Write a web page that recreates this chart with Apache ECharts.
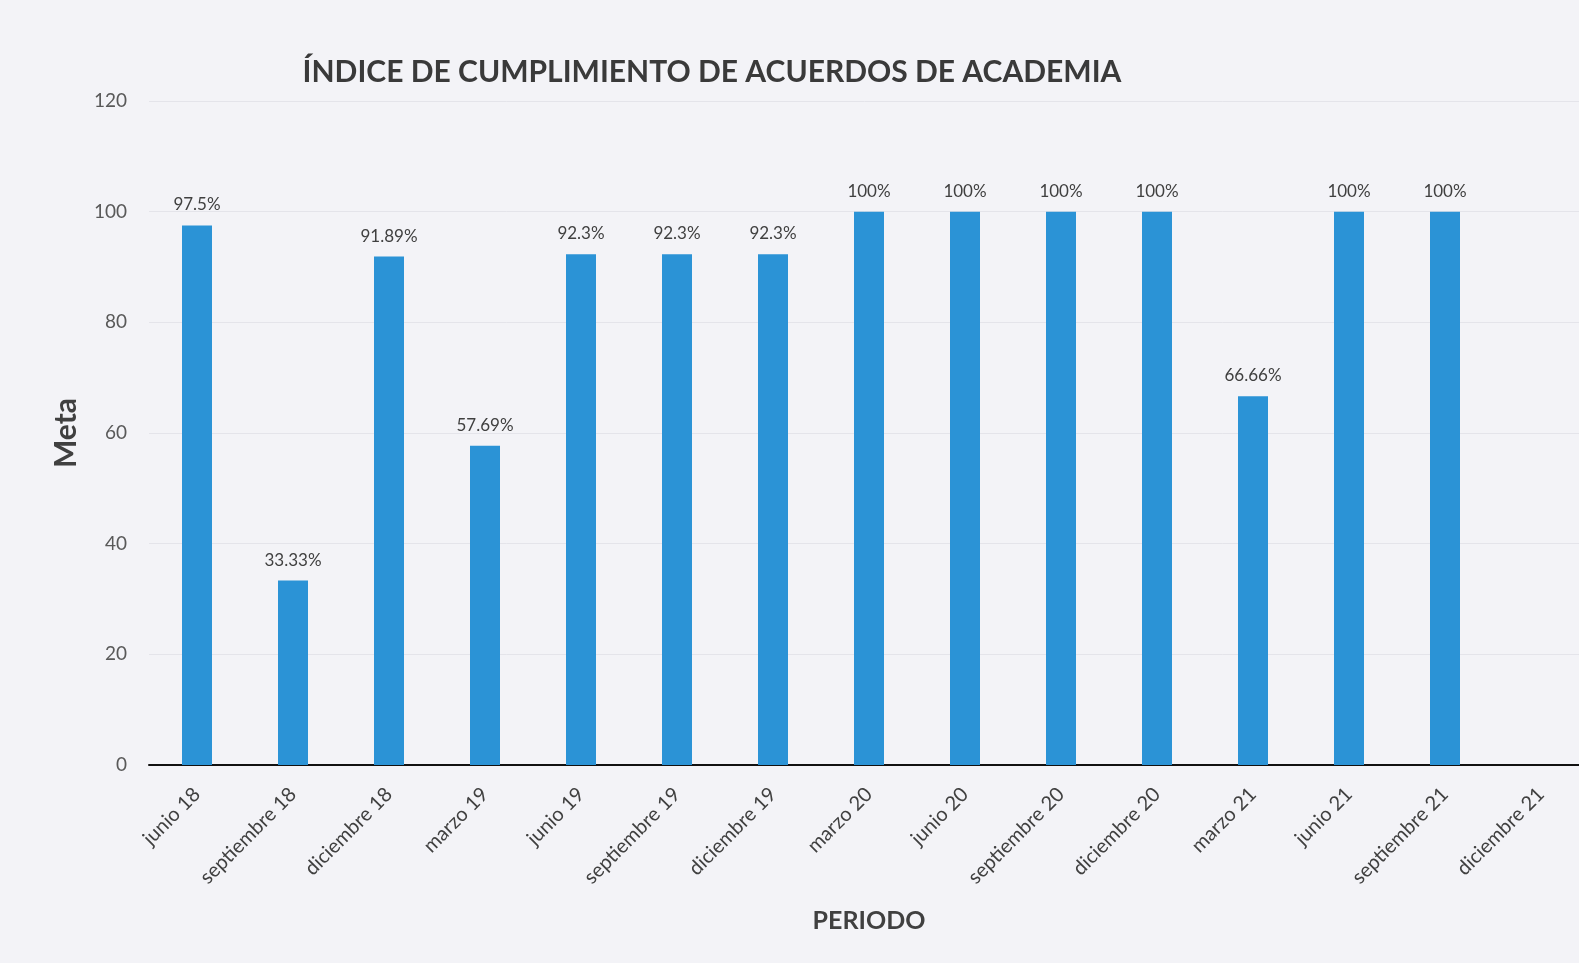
<!DOCTYPE html>
<html>
<head>
<meta charset="utf-8">
<title>Índice de cumplimiento</title>
<script src="https://cdn.jsdelivr.net/npm/echarts@6/dist/echarts.min.js"></script>
<style>
  html, body { margin: 0; padding: 0; background: #f3f3f7; }
  #chart { width: 1579px; height: 963px; }
</style>
</head>
<body>
<div id="chart"></div>
<script>
const periodos = ['junio 18', 'septiembre 18', 'diciembre 18', 'marzo 19', 'junio 19',
  'septiembre 19', 'diciembre 19', 'marzo 20', 'junio 20', 'septiembre 20',
  'diciembre 20', 'marzo 21', 'junio 21', 'septiembre 21', 'diciembre 21']
const cumplimiento = [97.5, 33.33, 91.89, 57.69, 92.3, 92.3, 92.3, 100, 100, 100, 100, 66.66, 100, 100, null]
const yMin = 0
const yMax = 120
const yStep = 20

const font = 'Lato, "Open Sans", sans-serif'
const chart = echarts.init(document.getElementById('chart'))

chart.setOption({
  backgroundColor: '#f3f3f7',
  title: {
    text: 'ÍNDICE DE CUMPLIMIENTO DE ACUERDOS DE ACADEMIA',
    left: 707,
    top: 52,
    textAlign: 'center',
    textStyle: { fontFamily: font, fontSize: 30, fontWeight: 'bold', color: '#3a3a3a' }
  },
  // the scan cuts the plot off at the right edge, so the grid runs past it
  grid: { left: 149, top: 101, width: 1440, height: 664, outerBoundsMode: 'none', containLabel: false },
  xAxis: {
    type: 'category',
    data: periodos,
    name: 'PERIODO',
    nameLocation: 'middle',
    nameGap: 143,
    nameTextStyle: { fontFamily: font, fontSize: 25, fontWeight: 'bold', color: '#404040' },
    axisLine: { lineStyle: { color: '#111', width: 2 } },
    axisTick: { show: false },
    axisLabel: { rotate: 45, margin: 26, fontFamily: font, fontSize: 20, color: '#404040', interval: 0 }
  },
  yAxis: {
    type: 'value',
    min: yMin,
    max: yMax,
    interval: yStep,
    name: 'Meta',
    nameLocation: 'middle',
    nameGap: 68,
    nameRotate: 90,
    nameTextStyle: { fontFamily: font, fontSize: 30, fontWeight: 'bold', color: '#404040' },
    axisLine: { show: false },
    axisTick: { show: false },
    axisLabel: { margin: 22, fontFamily: font, fontSize: 19, color: '#595959' },
    splitLine: { lineStyle: { color: '#e4e4ea', width: 1 } }
  },
  series: [{
    type: 'bar',
    data: cumplimiento,
    barWidth: 30,
    itemStyle: { color: '#2b93d6' },
    label: {
      show: true,
      position: 'top',
      distance: 12,
      formatter: p => p.value == null ? '' : p.value + '%',
      fontFamily: font,
      fontSize: 17,
      color: '#404040'
    }
  }]
})
</script>
</body>
</html>
